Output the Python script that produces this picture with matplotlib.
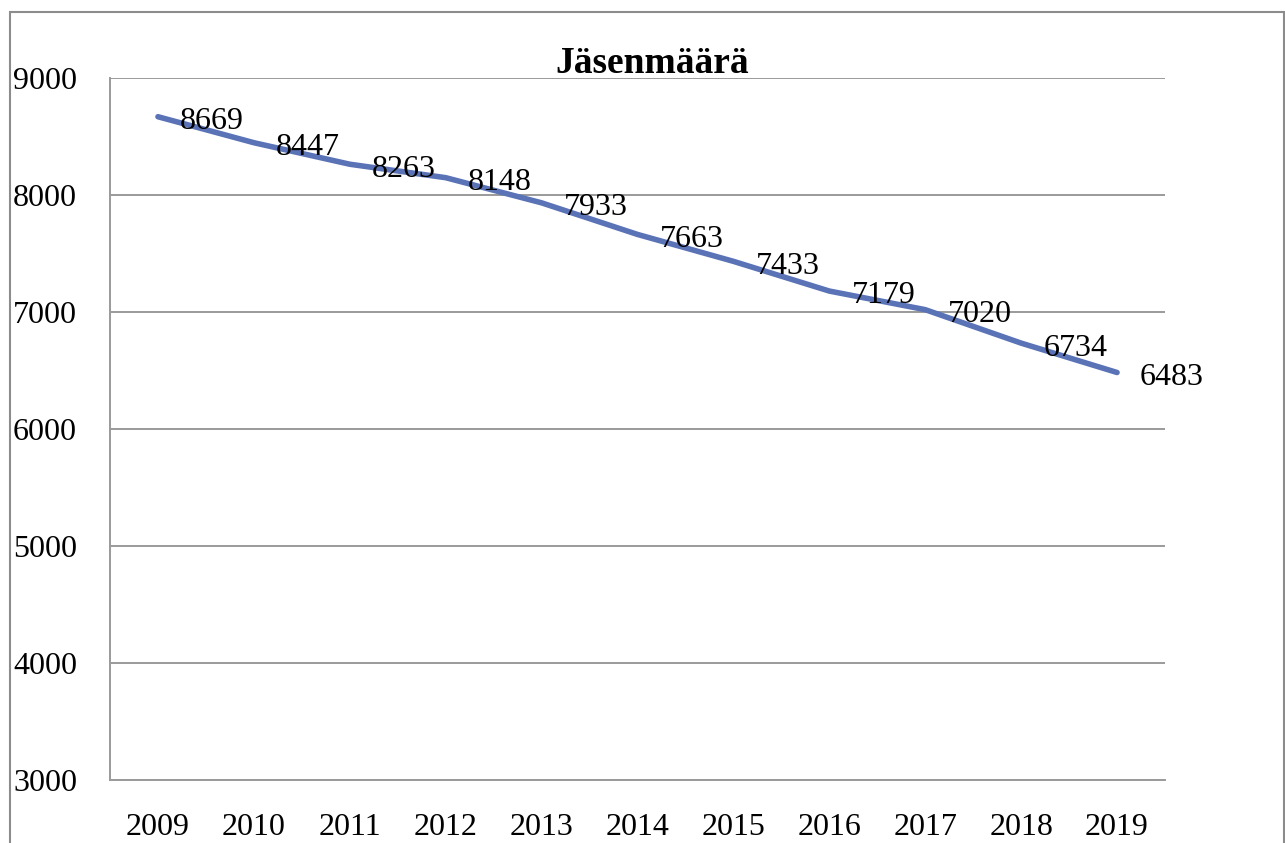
import numpy as np
import matplotlib.pyplot as plt
from matplotlib.patches import Rectangle

years = ['2009', '2010', '2011', '2012', '2013', '2014', '2015', '2016', '2017', '2018', '2019']
members = [8669, 8447, 8263, 8148, 7933, 7663, 7433, 7179, 7020, 6734, 6483]
yticks = [3000, 4000, 5000, 6000, 7000, 8000, 9000]

plt.rcParams['font.family'] = ['Liberation Serif', 'DejaVu Serif']

W, H = 1285, 843
fig = plt.figure(figsize=(W / 100, H / 100), dpi=100)

# outer chart frame (cut off at the bottom)
fig.patches.append(Rectangle((10 / W, -0.05), (W - 11) / W, 1.05 - 12 / H,
                             transform=fig.transFigure, fill=False,
                             edgecolor='#8c8c8c', linewidth=1.5))

# plot area in pixels: left 110, right 1165, top 78, bottom 780
ax = fig.add_axes([110 / W, 1 - 780 / H, (1165 - 110) / W, (780 - 78) / H])
x = np.arange(len(years))
ax.plot(x, members, color='#5a72b6', linewidth=4, solid_capstyle='round')
for xi, v in zip(x, members):
    ax.annotate(str(v), (xi, v), xytext=(16, -1), textcoords='offset points',
                ha='left', va='center_baseline', fontsize=23)

ax.set_xlim(-0.5, len(years) - 0.5)
ax.set_ylim(3000, 9000)
ax.set_yticks(yticks)
ax.set_yticklabels([])
ax.set_xticks(x)
ax.set_xticklabels(years, fontsize=23)
ax.tick_params(axis='both', length=0)
ax.tick_params(axis='x', pad=24)
ax.yaxis.grid(True, color='#9a9a9a', linewidth=1.4)
ax.set_axisbelow(True)
for s in ['top', 'right']:
    ax.spines[s].set_visible(False)
ax.spines['left'].set_color('#9a9a9a')
ax.spines['bottom'].set_color('#9a9a9a')
ax.spines['left'].set_linewidth(1.4)
ax.spines['bottom'].set_linewidth(1.4)

# y labels are left aligned next to the outer frame
for t in yticks:
    ypix = 780 - (t - 3000) / 6000 * 702
    fig.text(13 / W, 1 - ypix / H, str(t), ha='left', va='center_baseline', fontsize=23)

fig.text(652 / W, 1 - 73 / H, 'Jäsenmäärä', ha='center', va='baseline',
         fontsize=27, fontweight='bold')

fig.savefig('out.png', dpi=100)
